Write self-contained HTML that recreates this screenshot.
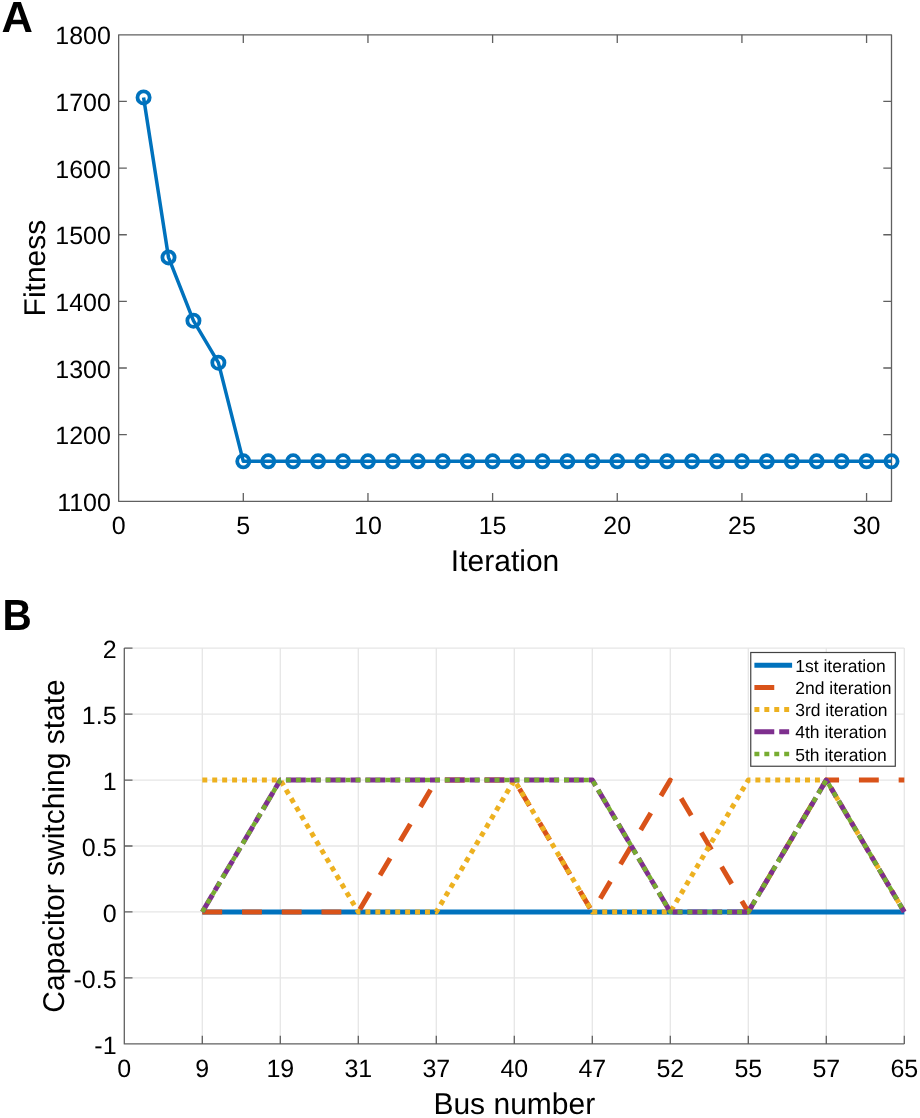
<!DOCTYPE html><html><head><meta charset="utf-8"><style>html,body{margin:0;padding:0;background:#fff;}svg{display:block;will-change:transform;}text{font-family:"Liberation Sans",sans-serif;fill:#000;text-rendering:geometricPrecision;}</style></head><body>
<svg width="920" height="1118" viewBox="0 0 920 1118">
<rect width="920" height="1118" fill="#fff"/>
<text x="1.6" y="32.4" font-size="43.5" font-weight="bold">A</text>
<path d="M243.30 501.30V493.10M243.30 34.80V43.00M367.96 501.30V493.10M367.96 34.80V43.00M492.61 501.30V493.10M492.61 34.80V43.00M617.26 501.30V493.10M617.26 34.80V43.00M741.92 501.30V493.10M741.92 34.80V43.00M866.57 501.30V493.10M866.57 34.80V43.00M118.65 434.66H126.85M891.50 434.66H883.30M118.65 368.01H126.85M891.50 368.01H883.30M118.65 301.37H126.85M891.50 301.37H883.30M118.65 234.73H126.85M891.50 234.73H883.30M118.65 168.09H126.85M891.50 168.09H883.30M118.65 101.44H126.85M891.50 101.44H883.30" stroke="#606060" stroke-width="1.3" fill="none" stroke-linejoin="round"/>
<rect x="118.65" y="34.80" width="772.85" height="466.50" stroke="#606060" stroke-width="1.3" fill="none" stroke-linejoin="round"/>
<text x="118.65" y="533.8" font-size="25" text-anchor="middle">0</text>
<text x="243.30" y="533.8" font-size="25" text-anchor="middle">5</text>
<text x="367.96" y="533.8" font-size="25" text-anchor="middle">10</text>
<text x="492.61" y="533.8" font-size="25" text-anchor="middle">15</text>
<text x="617.26" y="533.8" font-size="25" text-anchor="middle">20</text>
<text x="741.92" y="533.8" font-size="25" text-anchor="middle">25</text>
<text x="866.57" y="533.8" font-size="25" text-anchor="middle">30</text>
<text x="110.9" y="510.90" font-size="25" text-anchor="end">1100</text>
<text x="110.9" y="444.26" font-size="25" text-anchor="end">1200</text>
<text x="110.9" y="377.61" font-size="25" text-anchor="end">1300</text>
<text x="110.9" y="310.97" font-size="25" text-anchor="end">1400</text>
<text x="110.9" y="244.33" font-size="25" text-anchor="end">1500</text>
<text x="110.9" y="177.69" font-size="25" text-anchor="end">1600</text>
<text x="110.9" y="111.04" font-size="25" text-anchor="end">1700</text>
<text x="110.9" y="44.40" font-size="25" text-anchor="end">1800</text>
<text x="505.07" y="570.9" font-size="30" text-anchor="middle">Iteration</text>
<text transform="translate(45.2 268.05) rotate(-90)" x="0" y="0" font-size="30" text-anchor="middle">Fitness</text>
<polyline points="143.58,97.44 168.51,257.39 193.44,320.70 218.37,362.68 243.30,461.31 268.23,461.31 293.16,461.31 318.10,461.31 343.03,461.31 367.96,461.31 392.89,461.31 417.82,461.31 442.75,461.31 467.68,461.31 492.61,461.31 517.54,461.31 542.47,461.31 567.40,461.31 592.33,461.31 617.26,461.31 642.19,461.31 667.12,461.31 692.05,461.31 716.99,461.31 741.92,461.31 766.85,461.31 791.78,461.31 816.71,461.31 841.64,461.31 866.57,461.31 891.50,461.31" fill="none" stroke="#0072BD" stroke-width="3.5" stroke-linejoin="round"/>
<g fill="none" stroke="#0072BD" stroke-width="3.8">
<circle cx="143.58" cy="97.44" r="6.1"/>
<circle cx="168.51" cy="257.39" r="6.1"/>
<circle cx="193.44" cy="320.70" r="6.1"/>
<circle cx="218.37" cy="362.68" r="6.1"/>
<circle cx="243.30" cy="461.31" r="6.1"/>
<circle cx="268.23" cy="461.31" r="6.1"/>
<circle cx="293.16" cy="461.31" r="6.1"/>
<circle cx="318.10" cy="461.31" r="6.1"/>
<circle cx="343.03" cy="461.31" r="6.1"/>
<circle cx="367.96" cy="461.31" r="6.1"/>
<circle cx="392.89" cy="461.31" r="6.1"/>
<circle cx="417.82" cy="461.31" r="6.1"/>
<circle cx="442.75" cy="461.31" r="6.1"/>
<circle cx="467.68" cy="461.31" r="6.1"/>
<circle cx="492.61" cy="461.31" r="6.1"/>
<circle cx="517.54" cy="461.31" r="6.1"/>
<circle cx="542.47" cy="461.31" r="6.1"/>
<circle cx="567.40" cy="461.31" r="6.1"/>
<circle cx="592.33" cy="461.31" r="6.1"/>
<circle cx="617.26" cy="461.31" r="6.1"/>
<circle cx="642.19" cy="461.31" r="6.1"/>
<circle cx="667.12" cy="461.31" r="6.1"/>
<circle cx="692.05" cy="461.31" r="6.1"/>
<circle cx="716.99" cy="461.31" r="6.1"/>
<circle cx="741.92" cy="461.31" r="6.1"/>
<circle cx="766.85" cy="461.31" r="6.1"/>
<circle cx="791.78" cy="461.31" r="6.1"/>
<circle cx="816.71" cy="461.31" r="6.1"/>
<circle cx="841.64" cy="461.31" r="6.1"/>
<circle cx="866.57" cy="461.31" r="6.1"/>
<circle cx="891.50" cy="461.31" r="6.1"/>
</g>
<text transform="translate(2.6 630) scale(0.93 1)" x="0" y="0" font-size="43.5" font-weight="bold">B</text>
<path d="M202.30 648.10V1043.90M280.30 648.10V1043.90M358.30 648.10V1043.90M436.30 648.10V1043.90M514.30 648.10V1043.90M592.30 648.10V1043.90M670.30 648.10V1043.90M748.30 648.10V1043.90M826.30 648.10V1043.90M904.30 648.10V1043.90M124.30 648.10H904.30M124.30 714.07H904.30M124.30 780.03H904.30M124.30 846.00H904.30M124.30 911.97H904.30M124.30 977.93H904.30" stroke="#E6E6E6" stroke-width="1.3" fill="none"/>
<path d="M202.30 1043.90V1035.70M280.30 1043.90V1035.70M358.30 1043.90V1035.70M436.30 1043.90V1035.70M514.30 1043.90V1035.70M592.30 1043.90V1035.70M670.30 1043.90V1035.70M748.30 1043.90V1035.70M826.30 1043.90V1035.70M904.30 1043.90V1035.70M124.30 648.10H132.50M124.30 714.07H132.50M124.30 780.03H132.50M124.30 846.00H132.50M124.30 911.97H132.50M124.30 977.93H132.50M124.30 648.10V1043.90H904.30" stroke="#606060" stroke-width="1.3" fill="none" stroke-linejoin="round"/>
<text x="124.30" y="1077" font-size="25" text-anchor="middle">0</text>
<text x="202.30" y="1077" font-size="25" text-anchor="middle">9</text>
<text x="280.30" y="1077" font-size="25" text-anchor="middle">19</text>
<text x="358.30" y="1077" font-size="25" text-anchor="middle">31</text>
<text x="436.30" y="1077" font-size="25" text-anchor="middle">37</text>
<text x="514.30" y="1077" font-size="25" text-anchor="middle">40</text>
<text x="592.30" y="1077" font-size="25" text-anchor="middle">47</text>
<text x="670.30" y="1077" font-size="25" text-anchor="middle">52</text>
<text x="748.30" y="1077" font-size="25" text-anchor="middle">55</text>
<text x="826.30" y="1077" font-size="25" text-anchor="middle">57</text>
<text x="904.30" y="1077" font-size="25" text-anchor="middle">65</text>
<text x="116.6" y="658.20" font-size="25" text-anchor="end">2</text>
<text x="116.6" y="724.17" font-size="25" text-anchor="end">1.5</text>
<text x="116.6" y="790.13" font-size="25" text-anchor="end">1</text>
<text x="116.6" y="856.10" font-size="25" text-anchor="end">0.5</text>
<text x="116.6" y="922.07" font-size="25" text-anchor="end">0</text>
<text x="116.6" y="988.03" font-size="25" text-anchor="end">-0.5</text>
<text x="116.6" y="1054.00" font-size="25" text-anchor="end">-1</text>
<text x="514.30" y="1114.1" font-size="30" text-anchor="middle">Bus number</text>
<text transform="translate(63.5 846.00) rotate(-90)" x="0" y="0" font-size="30" text-anchor="middle">Capacitor switching state</text>
<polyline points="202.30,911.97 280.30,911.97 358.30,911.97 436.30,911.97 514.30,911.97 592.30,911.97 670.30,911.97 748.30,911.97 826.30,911.97 904.30,911.97" fill="none" stroke="#0072BD" stroke-width="5" stroke-linejoin="round"/>
<polyline points="202.30,911.97 280.30,911.97 358.30,911.97 436.30,780.03 514.30,780.03 592.30,911.97 670.30,780.03 748.30,911.97 826.30,780.03 904.30,780.03" fill="none" stroke="#D95319" stroke-width="5" stroke-linejoin="round" stroke-dasharray="19.865 19.865"/>
<polyline points="202.30,780.03 280.30,780.03 358.30,911.97 436.30,911.97 514.30,780.03 592.30,911.97 670.30,911.97 748.30,780.03 826.30,780.03 904.30,911.97" fill="none" stroke="#EDB120" stroke-width="5" stroke-linejoin="round" stroke-dasharray="4.966 4.966"/>
<polyline points="202.30,911.97 280.30,780.03 358.30,780.03 436.30,780.03 514.30,780.03 592.30,780.03 670.30,911.97 748.30,911.97 826.30,780.03 904.30,911.97" fill="none" stroke="#7E2F8E" stroke-width="5" stroke-linejoin="round" stroke-dasharray="19.865 4.966 9.932 4.966"/>
<polyline points="202.30,911.97 280.30,780.03 358.30,780.03 436.30,780.03 514.30,780.03 592.30,780.03 670.30,911.97 748.30,911.97 826.30,780.03 904.30,911.97" fill="none" stroke="#77AC30" stroke-width="4.5" stroke-linejoin="round" stroke-dasharray="4.966 4.966"/>
<rect x="750.75" y="652.5" width="144.55" height="113.75" fill="#fff" stroke="#424242" stroke-width="1.2"/>
<line x1="754.4" y1="665.3" x2="792.1" y2="665.3" stroke="#0072BD" stroke-width="5"/>
<text x="795.2" y="672.00" font-size="17.5">1st iteration</text>
<line x1="754.4" y1="687.5" x2="792.1" y2="687.5" stroke="#D95319" stroke-width="5" stroke-dasharray="19.865 19.865"/>
<text x="795.2" y="694.13" font-size="17.5">2nd iteration</text>
<line x1="754.4" y1="709.6" x2="792.1" y2="709.6" stroke="#EDB120" stroke-width="5" stroke-dasharray="4.966 4.966"/>
<text x="795.2" y="716.26" font-size="17.5">3rd iteration</text>
<line x1="754.4" y1="731.8" x2="792.1" y2="731.8" stroke="#7E2F8E" stroke-width="5" stroke-dasharray="19.865 4.966 9.932 4.966"/>
<text x="795.2" y="738.39" font-size="17.5">4th iteration</text>
<line x1="754.4" y1="754.0" x2="792.1" y2="754.0" stroke="#77AC30" stroke-width="4.5" stroke-dasharray="4.966 4.966"/>
<text x="795.2" y="760.52" font-size="17.5">5th iteration</text>
</svg></body></html>
